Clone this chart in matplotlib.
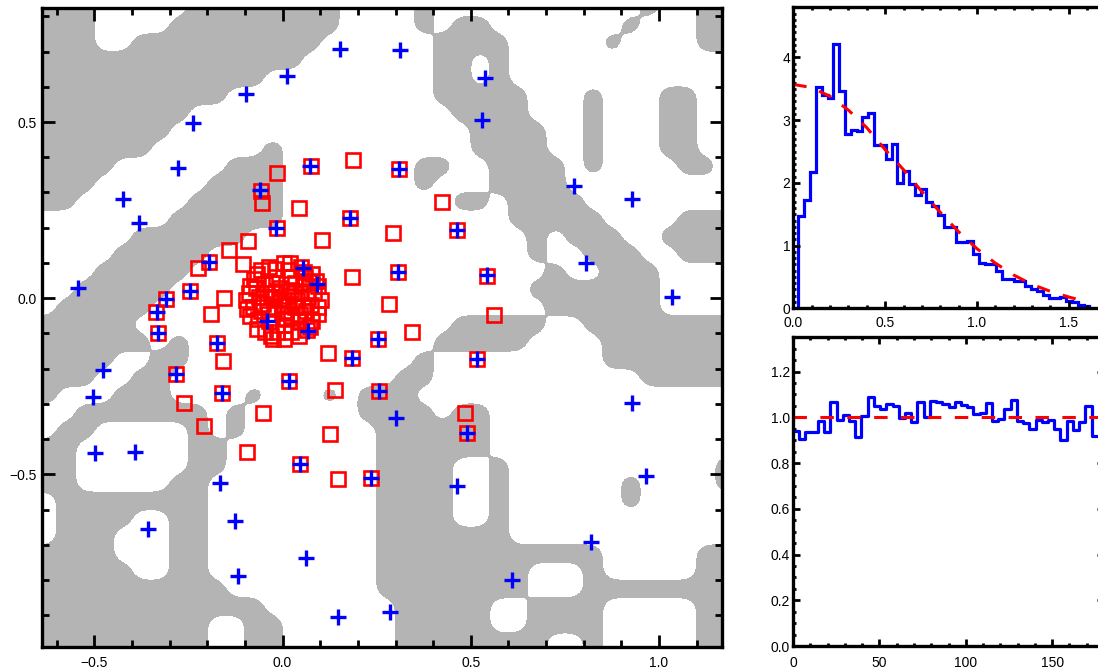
import numpy as np
import matplotlib
matplotlib.use("Agg")
import matplotlib.pyplot as plt
from matplotlib.ticker import MultipleLocator, FuncFormatter

plt.rcParams.update({
    "font.family": ["Liberation Sans", "DejaVu Sans"],
    "font.size": 10,
})

GRAY = "#b4b4b4"
BLUE = "#0000ff"
RED = "#ff0000"

# ------------------------------------------------------------------ data
# gray area of the map, read off on a 0.05 grid: for every row (top row at
# y = 0.825, going down) the runs of gray columns (column 0 at x = -0.625)
mask_runs = [
    [(0, 2), (8, 15), (20, 20), (32, 32), (35, 36)],
    [(0, 2), (7, 15), (20, 20), (22, 23), (31, 31), (35, 36)],
    [(0, 2), (5, 14), (21, 24), (30, 30), (35, 36)],
    [(0, 13), (21, 22), (24, 24)],
    [(0, 11), (21, 22), (24, 24)],
    [(0, 9), (21, 25), (29, 29), (33, 34)],
    [(0, 7), (22, 25), (29, 29), (33, 34)],
    [(0, 6), (23, 26), (29, 29), (33, 34)],
    [(0, 5), (12, 12), (23, 26), (29, 29), (33, 34)],
    [(0, 3), (10, 12), (20, 21), (24, 27), (29, 29), (34, 35)],
    [(0, 2), (9, 12), (20, 20), (24, 27)],
    [(0, 1), (8, 12), (22, 23), (25, 28)],
    [(7, 12), (25, 29), (34, 36)],
    [(5, 10), (26, 26), (28, 30), (33, 36)],
    [(4, 8), (26, 26), (29, 31), (34, 36)],
    [(3, 7), (27, 27), (30, 32)],
    [(2, 6), (26, 32)],
    [(1, 5), (27, 32)],
    [(0, 4), (22, 26), (29, 36)],
    [(0, 5), (7, 7), (21, 25), (30, 36)],
    [(0, 3), (6, 7), (20, 20), (30, 36)],
    [(0, 2), (5, 6), (19, 20), (32, 36)],
    [(0, 0), (4, 6), (11, 11), (15, 15), (17, 19)],
    [(2, 8), (10, 10), (17, 20), (22, 23)],
    [(1, 2), (8, 8), (10, 10), (18, 23)],
    [(0, 1), (8, 9), (18, 23)],
    [(0, 1), (8, 9), (18, 21), (24, 24), (36, 36)],
    [(0, 1), (7, 8), (18, 21), (24, 24), (31, 31), (36, 36)],
    [(1, 8), (18, 21), (24, 24), (31, 31)],
    [(1, 4), (7, 8), (18, 21), (24, 24)],
    [(1, 3), (7, 8), (18, 24)],
    [(0, 3), (7, 8), (18, 29), (35, 36)],
    [(0, 4), (7, 8), (18, 25), (29, 29), (35, 36)],
    [(0, 9), (18, 25), (29, 36)],
    [(0, 11), (19, 23), (26, 29), (35, 36)],
    [(0, 8), (11, 12), (19, 23), (26, 29), (35, 36)],
    [(0, 8), (11, 12), (19, 26), (29, 29), (35, 36)],
]

plus_x = [0.152, 0.011, -0.097, -0.238, -0.278, -0.424, -0.382, -0.544, -0.060, 0.073,
          0.179, -0.018, -0.196, -0.246, -0.310, -0.334, -0.331, 0.054, 0.091, -0.042,
          0.067, 0.312, 0.537, 0.529, 0.309, 0.774, 0.928, 0.463, 0.306, 0.543,
          0.806, 1.034, 0.253, -0.175, -0.477, -0.283, -0.504, -0.161, 0.017, 0.184,
          -0.499, -0.392, -0.167, 0.046, 0.235, -0.358, -0.127, 0.062, -0.119, 0.147,
          0.516, 0.256, 0.301, 0.489, 0.463, 0.928, 0.965, 0.819, 0.609, 0.285]
plus_y = [0.708, 0.630, 0.580, 0.498, 0.370, 0.282, 0.214, 0.029, 0.307, 0.376,
          0.228, 0.200, 0.103, 0.021, -0.002, -0.039, -0.098, 0.086, 0.041, -0.064,
          -0.093, 0.703, 0.625, 0.506, 0.367, 0.319, 0.282, 0.194, 0.075, 0.066,
          0.100, 0.004, -0.116, -0.127, -0.204, -0.215, -0.280, -0.269, -0.235, -0.169,
          -0.439, -0.436, -0.524, -0.470, -0.510, -0.655, -0.632, -0.737, -0.788, -0.905,
          -0.172, -0.263, -0.340, -0.382, -0.533, -0.297, -0.504, -0.692, -0.800, -0.890]

sq_x = [0.076, 0.187, -0.058, -0.055, -0.015, 0.043, 0.179, 0.104, -0.015, -0.092,
        -0.143, -0.105, -0.196, -0.225, -0.156, -0.246, -0.310, -0.190, -0.337, -0.331,
        0.184, 0.309, 0.423, 0.293, 0.463, 0.306, 0.543, 0.282, 0.561, 0.343,
        0.253, -0.175, -0.159, -0.283, -0.262, -0.161, -0.209, -0.052, -0.095, 0.017,
        0.120, 0.184, 0.139, 0.126, 0.046, 0.147, 0.235, 0.516, 0.256, 0.484, 0.489]
sq_y = [0.375, 0.393, 0.305, 0.271, 0.356, 0.256, 0.228, 0.165, 0.200, 0.163,
        0.137, 0.097, 0.103, 0.086, 0.001, 0.021, -0.002, -0.045, -0.039, -0.098,
        0.060, 0.367, 0.273, 0.185, 0.194, 0.075, 0.063, -0.016, -0.047, -0.096,
        -0.116, -0.127, -0.178, -0.215, -0.297, -0.269, -0.362, -0.326, -0.436, -0.235,
        -0.155, -0.169, -0.260, -0.385, -0.470, -0.513, -0.510, -0.172, -0.263, -0.326, -0.382]

# the dense clump of squares in the middle
clump_x = [0.103, 0.095, 0.078, 0.048, 0.003, -0.037, -0.067, -0.087, -0.097, -0.087,
           -0.067, -0.032, 0.003, 0.043, 0.073, 0.093, 0.068, 0.053, 0.023, -0.017,
           -0.047, -0.062, -0.057, -0.037, 0.003, 0.043, 0.063, 0.038, 0.023, -0.007,
           -0.032, -0.022, 0.003, 0.033, 0.003, 0.013, -0.009, 0.011, -0.002, 0.083,
           0.058, -0.017, -0.077, -0.079, -0.047, 0.023, 0.078, 0.048, -0.042, 0.023,
           -0.027, 0.033, 0.053, -0.052, 0.088, 0.065, -0.015, -0.065, -0.088, -0.058,
           0.015, 0.070, 0.030, -0.020, 0.010, -0.040, 0.045, 0.075, -0.070, 0.020,
           -0.025, 0.095, -0.095, 0.060]
clump_y = [-0.006, 0.034, 0.069, 0.089, 0.099, 0.089, 0.069, 0.034, -0.006, -0.051,
           -0.086, -0.106, -0.116, -0.106, -0.081, -0.046, 0.004, 0.039, 0.059, 0.059,
           0.039, 0.004, -0.036, -0.066, -0.076, -0.066, -0.036, -0.006, 0.024, 0.029,
           0.004, -0.031, -0.041, -0.026, -0.006, 0.006, -0.001, -0.018, -0.021, 0.014,
           0.074, 0.084, 0.054, -0.026, -0.096, -0.096, -0.066, 0.014, 0.014, -0.051,
           0.044, 0.044, -0.021, -0.016, 0.050, -0.090, -0.095, -0.060, 0.015, 0.080,
           0.080, 0.045, 0.015, 0.015, -0.060, -0.045, -0.045, -0.020, 0.030, 0.100,
           -0.115, -0.025, -0.030, 0.060]

# top right: radial histogram and fitted profile
r_lo, r_hi = 0.028, 1.612
r_hist = [1.47, 1.72, 2.17, 3.53, 3.40, 3.35, 4.22, 3.46, 2.78, 2.85,
          2.82, 3.05, 3.12, 2.61, 2.60, 2.38, 2.62, 2.00, 2.19, 1.98,
          1.80, 1.90, 1.69, 1.63, 1.48, 1.30, 1.30, 1.06, 1.06, 1.08,
          0.86, 0.73, 0.71, 0.71, 0.60, 0.46, 0.46, 0.43, 0.43, 0.35,
          0.30, 0.27, 0.22, 0.17, 0.16, 0.18, 0.11, 0.10, 0.05, 0.03]
fit_x = [0.0, 0.1, 0.2, 0.3, 0.4, 0.5, 0.6, 0.7, 0.8, 0.9,
         1.0, 1.1, 1.2, 1.3, 1.4, 1.5, 1.6]
fit_y = [3.57, 3.52, 3.38, 3.16, 2.88, 2.53, 2.21, 1.86, 1.53, 1.22,
         0.95, 0.72, 0.53, 0.38, 0.27, 0.18, 0.10]

# bottom right: angle histogram, 3.6 deg bins centred from 1.8
pa_first, pa_step = 1.8, 3.6
pa_hist = [0.940, 0.904, 0.937, 0.937, 0.984, 0.937, 1.067, 0.990, 1.009, 0.984,
           0.915, 1.006, 1.090, 1.050, 1.038, 1.060, 1.050, 0.999, 1.017, 0.980,
           1.067, 1.000, 1.071, 1.065, 1.057, 1.047, 1.067, 1.052, 1.047, 1.013,
           1.017, 1.061, 0.984, 0.994, 1.038, 1.076, 0.984, 0.974, 0.948, 0.990,
           0.980, 0.990, 0.950, 0.900, 0.984, 0.943, 0.980, 1.050, 0.920, 0.920]
pa_level = 1.0

# ------------------------------------------------------------------ figure
W, H = 1098, 671
fig = plt.figure(figsize=(W / 100, H / 100), dpi=100)


def place(x0, x1, y0, y1):
    return fig.add_axes([x0 / W, 1 - y1 / H, (x1 - x0) / W, (y1 - y0) / H])


def frame(ax, major, minor, xpad, ypad):
    for s in ax.spines.values():
        s.set_linewidth(2.4)
    ax.tick_params(which="both", direction="in", top=True, right=True,
                   width=2.0, labelsize=10)
    ax.tick_params(which="major", length=major)
    ax.tick_params(which="minor", length=minor)
    ax.tick_params(axis="x", which="both", pad=xpad)
    ax.tick_params(axis="y", which="both", pad=ypad)


def fmt(decimals):
    return FuncFormatter(lambda v, p: f"{v:.{decimals}f}".replace("-", "\u2212")
                         if abs(v) > 1e-9 else f"{0:.{decimals}f}")


axL = place(41.7, 722.3, 7.5, 646.7)
axT = place(793.3, 1105.6, 7.3, 308.3)
axB = place(793.0, 1104.0, 337.3, 646.0)

# ---- left: map
nrow, ncol, cell = len(mask_runs), 37, 0.05
mask = np.zeros((nrow, ncol))
for i, runs in enumerate(mask_runs):
    for a, b in runs:
        mask[i, a:b + 1] = 1
m = np.pad(mask, 2, mode="edge")[::-1]
up = 5
fine = np.kron(m, np.ones((up, up)))
k = np.ones(up) / up
for _ in range(2):
    fine = np.apply_along_axis(np.convolve, 0, fine, k, mode="same")
    fine = np.apply_along_axis(np.convolve, 1, fine, k, mode="same")
x0 = -0.625 - 2.5 * cell
y0 = 0.825 - (nrow - 1) * cell - 2.5 * cell
fx = x0 + (np.arange(fine.shape[1]) + 0.5) * cell / up
fy = y0 + (np.arange(fine.shape[0]) + 0.5) * cell / up
axL.contourf(fx, fy, fine, levels=[0.5, 2], colors=[GRAY])

axL.plot(sq_x + clump_x, sq_y + clump_y, ls="none", marker="s", ms=10.3,
         mfc="none", mec=RED, mew=1.9)
axL.plot(plus_x, plus_y, ls="none", marker="+", ms=11.3, color=BLUE, mew=2.4)

axL.set_xlim(-0.640, 1.168)
axL.set_ylim(-0.989, 0.825)
axL.xaxis.set_major_locator(MultipleLocator(0.5))
axL.xaxis.set_minor_locator(MultipleLocator(0.1))
axL.yaxis.set_major_locator(MultipleLocator(0.5))
axL.yaxis.set_minor_locator(MultipleLocator(0.1))
axL.xaxis.set_major_formatter(fmt(1))
axL.yaxis.set_major_formatter(fmt(1))
frame(axL, 9.0, 4.7, 6.5, 3.5)

# ---- top right: radial histogram
edges = np.linspace(r_lo, r_hi, len(r_hist) + 1)
axT.stairs(r_hist, edges, baseline=0, color=BLUE, lw=2.3)
axT.plot(fit_x, fit_y, color=RED, lw=2.2, dashes=(4.4, 4.4))
axT.set_xlim(0, 1.7)
axT.set_ylim(0, 4.8)
axT.xaxis.set_major_locator(MultipleLocator(0.5))
axT.xaxis.set_minor_locator(MultipleLocator(0.1))
axT.yaxis.set_major_locator(MultipleLocator(1))
axT.yaxis.set_minor_locator(MultipleLocator(0.1))
axT.xaxis.set_major_formatter(fmt(1))
axT.yaxis.set_major_formatter(fmt(0))
frame(axT, 4.7, 2.4, 5.5, 2.0)

# ---- bottom right: angle histogram
pa_x = pa_first + pa_step * np.arange(len(pa_hist))
axB.step(pa_x, pa_hist, where="mid", color=BLUE, lw=2.3)
axB.axhline(pa_level, color=RED, lw=2.2, dashes=(4.4, 4.4))
axB.set_xlim(0, 180)
axB.set_ylim(0, 1.35)
axB.xaxis.set_major_locator(MultipleLocator(50))
axB.xaxis.set_minor_locator(MultipleLocator(10))
axB.yaxis.set_major_locator(MultipleLocator(0.2))
axB.yaxis.set_minor_locator(MultipleLocator(0.05))
axB.xaxis.set_major_formatter(fmt(0))
axB.yaxis.set_major_formatter(fmt(1))
frame(axB, 4.7, 2.4, 7.0, 2.0)

fig.savefig("out.png", dpi=100)
